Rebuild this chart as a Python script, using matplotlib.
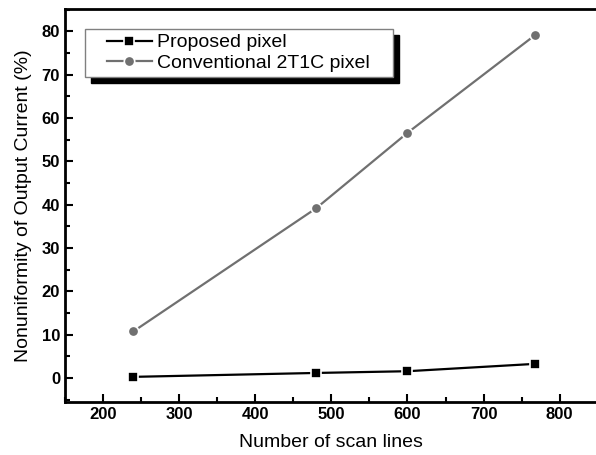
import matplotlib.pyplot as plt
from matplotlib.lines import Line2D
from matplotlib.legend_handler import HandlerLine2D
from matplotlib.patches import Rectangle
from matplotlib.ticker import MultipleLocator

plt.rcParams['font.family'] = ['Liberation Sans', 'DejaVu Sans']

scan_lines = [240, 480, 600, 768]
proposed = [0.3, 1.2, 1.6, 3.3]
conventional = [10.8, 39.2, 56.6, 79.2]

fig = plt.figure(figsize=(5.96, 4.55), dpi=100)
ax = fig.add_axes([0.109, 0.1165, 0.894, 0.864])

ax.plot(scan_lines, proposed, color='black', lw=1.6, marker='s', ms=7,
        mec='white', mew=1.2, label='Proposed pixel')
ax.plot(scan_lines, conventional, color='#707070', lw=1.6, marker='o', ms=7.5,
        mec='white', mew=1.2, label='Conventional 2T1C pixel')

ax.set_xlim(150, 850)
ax.set_ylim(-5.5, 85.2)
ax.xaxis.set_minor_locator(MultipleLocator(50))
ax.yaxis.set_major_locator(MultipleLocator(10))
ax.yaxis.set_minor_locator(MultipleLocator(5))
ax.set_xticks([200, 300, 400, 500, 600, 700, 800])
ax.tick_params(which='major', direction='in', length=6, width=1.5, labelsize=12)
ax.tick_params(which='minor', direction='in', length=3.5, width=1.5)
for lab in ax.get_xticklabels() + ax.get_yticklabels():
    lab.set_fontweight('bold')
for s in ax.spines.values():
    s.set_linewidth(2)

ax.set_xlabel('Number of scan lines', fontsize=14, labelpad=9)
ax.set_ylabel('Nonuniformity of Output Current (%)', fontsize=14, labelpad=7)

leg = ax.legend(loc='upper left', bbox_to_anchor=(0.0375, 0.7, 0.578, 0.249),
                mode='expand', borderaxespad=0, fontsize=14, fancybox=False,
                shadow=False, edgecolor='#808080', framealpha=1,
                handlelength=3.2, borderpad=0.25, labelspacing=0.15,
                handletextpad=0.26,
                handler_map={Line2D: HandlerLine2D(xpad=0.88)})
leg.get_frame().set_linewidth(1)
leg.set_zorder(6)

# offset black shadow behind the legend box
fig.canvas.draw()
bb = leg.get_frame().get_window_extent().transformed(fig.transFigure.inverted())
shadow = Rectangle((bb.x0 + 6 / 596, bb.y0 - 6 / 455), bb.width, bb.height,
                   transform=fig.transFigure, color='black', zorder=5,
                   clip_on=False)
ax.add_patch(shadow)

fig.savefig('out.png', dpi=100)
